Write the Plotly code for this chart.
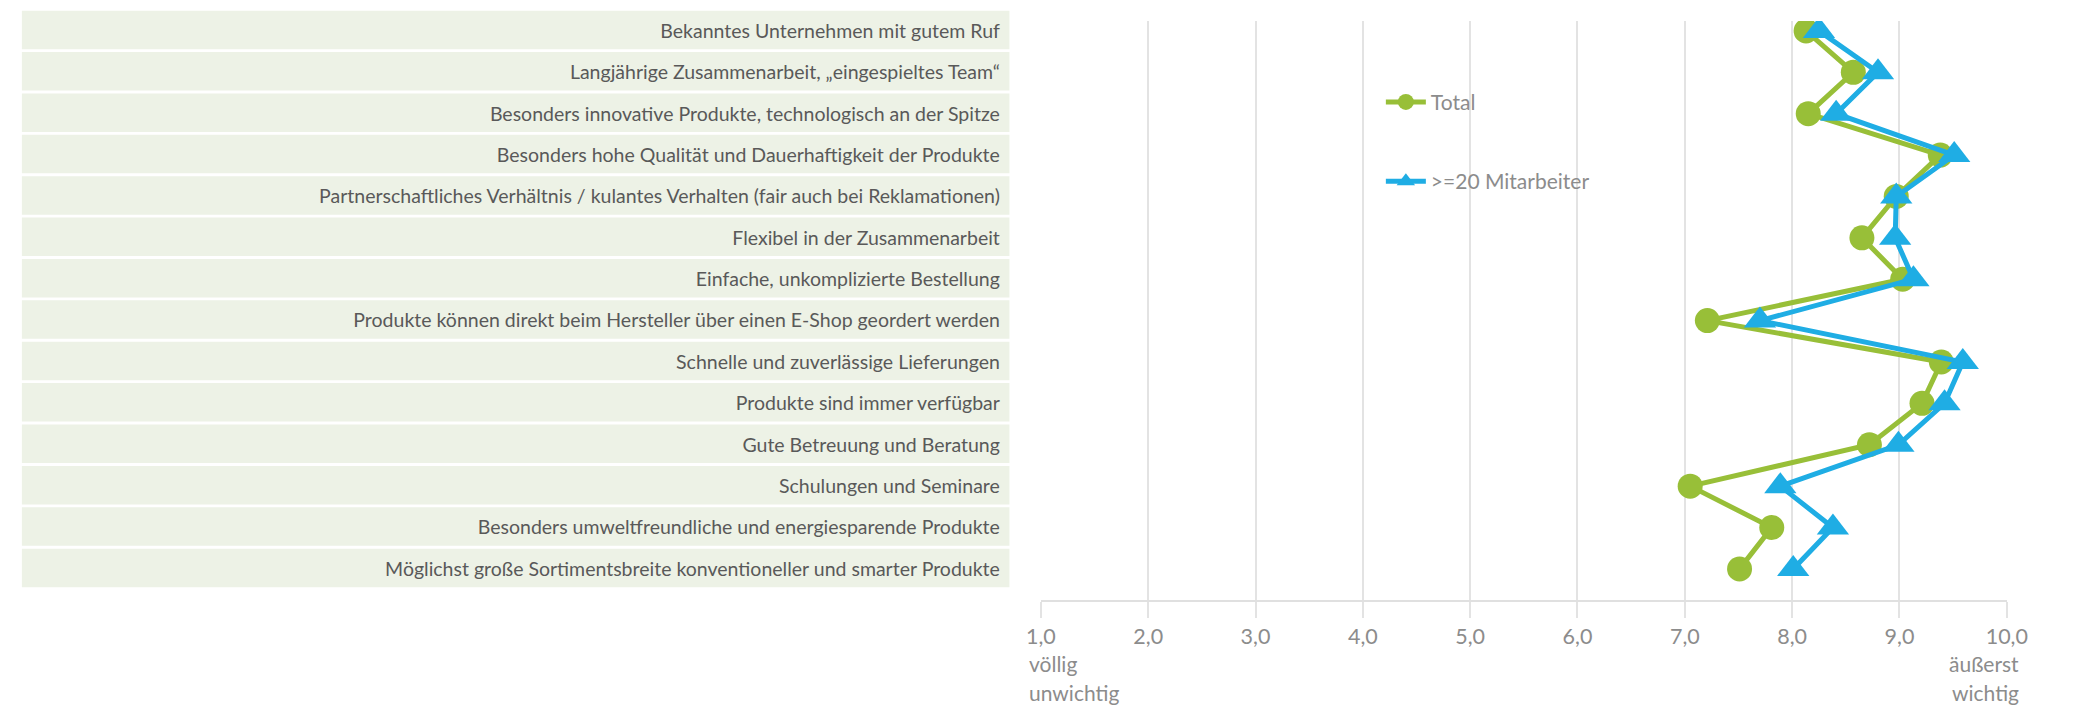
import plotly.graph_objects as go

# Survey criteria (top to bottom) and mean importance ratings on a 1–10 scale
categories = [
    "Bekanntes Unternehmen mit gutem Ruf",
    "Langjährige Zusammenarbeit, „eingespieltes Team“",
    "Besonders innovative Produkte, technologisch an der Spitze",
    "Besonders hohe Qualität und Dauerhaftigkeit der Produkte",
    "Partnerschaftliches Verhältnis / kulantes Verhalten (fair auch bei Reklamationen)",
    "Flexibel in der Zusammenarbeit",
    "Einfache, unkomplizierte Bestellung",
    "Produkte können direkt beim Hersteller über einen E-Shop geordert werden",
    "Schnelle und zuverlässige Lieferungen",
    "Produkte sind immer verfügbar",
    "Gute Betreuung und Beratung",
    "Schulungen und Seminare",
    "Besonders umweltfreundliche und energiesparende Produkte",
    "Möglichst große Sortimentsbreite konventioneller und smarter Produkte",
]
total = [8.13, 8.57, 8.15, 9.38, 8.97, 8.65, 9.03, 7.21, 9.39, 9.21, 8.72, 7.05, 7.81, 7.51]
mitarbeiter_20 = [8.25, 8.80, 8.41, 9.51, 8.97, 8.96, 9.13, 7.70, 9.59, 9.42, 8.99, 7.89, 8.38, 8.01]

x_ticks = [1, 2, 3, 4, 5, 6, 7, 8, 9, 10]
x_tick_labels = ["1,0", "2,0", "3,0", "4,0", "5,0", "6,0", "7,0", "8,0", "9,0", "10,0"]
scale_low = ["völlig", "unwichtig"]
scale_high = ["äußerst", "wichtig"]
series_names = ["Total", ">=20 Mitarbeiter"]

W, H = 2073, 709
GREEN = "#98BF38"
BLUE = "#1FADE4"
GRID = "#E3E3E3"
GREY_TEXT = "#8C8C8C"
FONT = "Lato, Carlito, Calibri, sans-serif"


def px_x(p):
    return p / W


def px_y(p):
    return 1 - p / H


n = len(categories)
idx = list(range(n))

# Vertical layout of the rows (pixels from the top of the page)
y_top, y_bot = 19, 600
first_center, pitch = 29, 41.5
band_half = 19.3

fig = go.Figure()
fig.add_trace(go.Scatter(
    x=total, y=idx, name=series_names[0], mode="lines+markers",
    line=dict(color=GREEN, width=5),
    marker=dict(symbol="circle", size=25, color=GREEN),
    legendgroup="a",
))
fig.add_trace(go.Scatter(
    x=mitarbeiter_20, y=idx, name=series_names[1], mode="lines+markers",
    line=dict(color=BLUE, width=5),
    marker=dict(symbol="triangle-up", size=28, color=BLUE),
    legendgroup="b",
))

# Light green bands behind the category labels
shapes = []
for i in idx:
    c = first_center - 1 + pitch * i
    shapes.append(dict(
        type="rect", xref="paper", yref="paper",
        x0=px_x(7), x1=px_x(1012), y0=px_y(c + band_half), y1=px_y(c - band_half),
        fillcolor="#EDF2E6", line=dict(width=0), layer="below",
    ))

# Scale end descriptions under the first and last tick
annotations = []
for k, (lo, hi) in enumerate(zip(scale_low, scale_high)):
    yy = px_y(663 + 29 * k)
    annotations.append(dict(text=lo, xref="paper", yref="paper", x=px_x(1030), y=yy,
                            xanchor="left", yanchor="middle", showarrow=False,
                            font=dict(family=FONT, size=21, color=GREY_TEXT)))
    annotations.append(dict(text=hi, xref="paper", yref="paper", x=px_x(2041), y=yy,
                            xanchor="right", yanchor="middle", showarrow=False,
                            font=dict(family=FONT, size=21, color=GREY_TEXT)))

fig.update_layout(
    width=W, height=H,
    margin=dict(l=0, r=0, t=0, b=0),
    paper_bgcolor="white", plot_bgcolor="white",
    font=dict(family=FONT),
    shapes=shapes,
    annotations=annotations,
    showlegend=True,
    legend=dict(
        x=px_x(1390), y=px_y(80), xanchor="left", yanchor="top",
        bgcolor="rgba(0,0,0,0)", font=dict(family=FONT, size=21, color=GREY_TEXT),
        tracegroupgap=49, itemwidth=40,
    ),
    xaxis=dict(
        domain=[px_x(1044), px_x(2027)], range=[1, 10],
        tickvals=x_ticks, ticktext=x_tick_labels,
        showgrid=True, gridcolor=GRID, gridwidth=1.5,
        showline=True, linecolor="#E0E0E0", linewidth=2,
        zeroline=False, ticks="outside", ticklen=16, tickwidth=1.5, tickcolor=GRID,
        ticklabelstandoff=0,
        tickfont=dict(family=FONT, size=21.5, color=GREY_TEXT),
        anchor="y", fixedrange=True,
    ),
    yaxis=dict(
        domain=[px_y(y_bot), px_y(y_top)],
        range=[(y_bot - first_center) / pitch, (y_top - first_center) / pitch],
        tickvals=idx, ticktext=categories,
        showgrid=False, zeroline=False, showline=False, ticks="",
        ticklabelstandoff=40,
        tickfont=dict(family=FONT, size=19.5, color="#595959"),
        fixedrange=True,
    ),
)

fig.write_html("out.html")
